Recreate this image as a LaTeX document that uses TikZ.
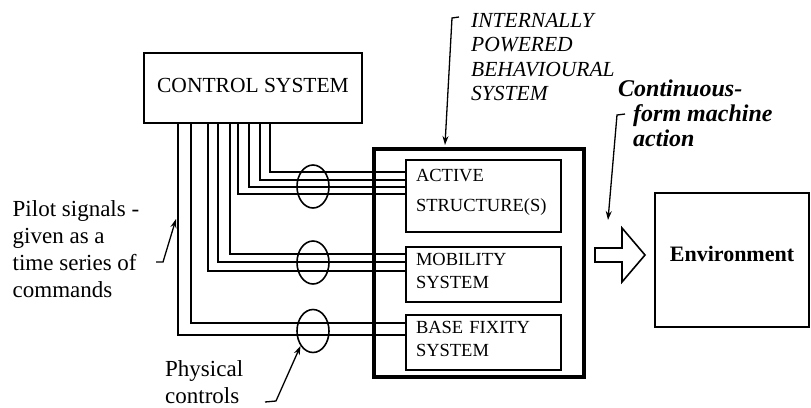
\documentclass[tikz,border=0pt]{standalone}
\usepackage{fontspec}
\setmainfont{Liberation Serif}
\usepackage{tikz}
\usetikzlibrary{arrows.meta,positioning,shapes.geometric,calc}
\tikzset{
  ctrlbox/.style={rectangle, draw, line width=1.6pt,
    minimum width=218pt, minimum height=70pt, inner sep=0pt,
    text height=15pt, text depth=7pt,
    font=\fontsize{21.5}{24}\selectfont},
  sysbox/.style={rectangle, draw, line width=1.6pt,
    minimum width=155pt, minimum height=#1,
    text width=135pt, align=left, inner xsep=10pt, inner ysep=0pt,
    font=\fontsize{18.5}{23}\selectfont},
  sysbox/.default=55pt,
  outerbox/.style={rectangle, draw, line width=4pt,
    minimum width=210pt, minimum height=228pt, inner sep=0pt},
  envbox/.style={rectangle, draw, line width=1.6pt,
    minimum width=154pt, minimum height=134pt, inner sep=0pt,
    text height=15pt, text depth=12pt,
    font=\bfseries\fontsize{22}{26}\selectfont},
  bundle/.style={ellipse, draw, line width=1.6pt,
    minimum width=32pt, minimum height=43pt, inner sep=0pt},
  wire/.style={line width=1.5pt},
  leader/.style={line width=1.3pt, -{Stealth[length=9pt, width=6pt]}},
  blockarrow/.style={draw, line width=1.6pt, line join=miter},
  notelabel/.style={align=left, inner sep=0pt, anchor=north west,
    font=\fontsize{23}{27}\selectfont},
  ibslabel/.style={align=left, inner sep=0pt, anchor=north west,
    font=\itshape\fontsize{21.5}{24.5}\selectfont},
  actlabel/.style={align=left, inner sep=0pt, anchor=north west,
    font=\bfseries\itshape\fontsize{24}{24.8}\selectfont},
}

\begin{document}
\begin{tikzpicture}[x=1pt, y=-1pt]
  \useasboundingbox (0,0) rectangle (811,407);
  % boxes
  \node[ctrlbox] (ctrl) at (253,88) {CONTROL SYSTEM};
  \node[outerbox] (ibs) at (479,263) {};
  \node[sysbox=72pt, text depth=40.5pt] (active) at (483.5,196) {ACTIVE\\[7pt]STRUCTURE(S)};
  \node[sysbox, text depth=31pt] (mobility) at (483.5,274.5) {MOBILITY\\SYSTEM};
  \node[sysbox, text depth=30.5pt] (base) at (483.5,342.5) {BASE FIXITY\\SYSTEM};
  \node[envbox] (env) at (732,260) {Environment};
  % pilot wires to the active structure
  \draw[wire] ([xshift=17pt]ctrl.south) |- ([yshift=24pt]active.west);
  \draw[wire] ([xshift=7pt]ctrl.south) |- ([yshift=16pt]active.west);
  \draw[wire] ([xshift=-4pt]ctrl.south) |- ([yshift=9pt]active.west);
  \draw[wire] ([xshift=-15pt]ctrl.south) |- ([yshift=2pt]active.west);
  % pilot wires to mobility
  \draw[wire] ([xshift=-23pt]ctrl.south) |- ([yshift=20.5pt]mobility.west);
  \draw[wire] ([xshift=-35pt]ctrl.south) |- ([yshift=12.5pt]mobility.west);
  \draw[wire] ([xshift=-45pt]ctrl.south) |- ([yshift=3.5pt]mobility.west);
  % pilot wires to base fixity
  \draw[wire] ([xshift=-62pt]ctrl.south) |- ([yshift=19.5pt]base.west);
  \draw[wire] ([xshift=-75pt]ctrl.south) |- ([yshift=7.5pt]base.west);
  % physical controls
  \node[bundle] (bunA) at (313,186.5) {};
  \node[bundle] (bunM) at (313,262.5) {};
  \node[bundle] (bunB) at (313,331) {};
  % machine action
  \coordinate (actmid) at ([yshift=5pt]ibs.east |- env.west);
  \draw[blockarrow] (actmid) ++(9,-7) -- ++(27,0) -- ++(0,-20) -- ++(23,27)
    -- ++(-23,27) -- ++(0,-20) -- ++(-27,0) -- cycle;
  % labels
  \node[ibslabel] (ibstext) at (471,12.7) {INTERNALLY\\POWERED\\BEHAVIOURAL\\SYSTEM};
  \node[actlabel] (acttext) at (633,80) {\hspace*{-15pt}Continuous-\\form machine\\action};
  \node[notelabel] (pilottext) at (12.5,200.3) {Pilot signals -\\given as a\\time series of\\commands};
  \node[notelabel] (phystext) at (165,360.3) {Physical\\controls};
  % leaders
  \coordinate (ibstail) at (459,17);
  \coordinate (acttail) at (625,114);
  \coordinate (acttip) at (608,220);
  \coordinate (pilottail) at (156,262);
  \coordinate (pilottip) at (176,219);
  \coordinate (phystail) at (265,402);
  \draw[leader] (ibstail) -- ++(-7,1) -- ([xshift=73pt, yshift=2pt]ibs.north west);
  \draw[leader] (acttail) -- ++(-8,1) -- (acttip);
  \draw[leader] (pilottail) -- ++(7,0) -- (pilottip);
  \draw[leader] (phystail) -- ++(11,-1) -- (bunB.230);
\end{tikzpicture}
\end{document}
